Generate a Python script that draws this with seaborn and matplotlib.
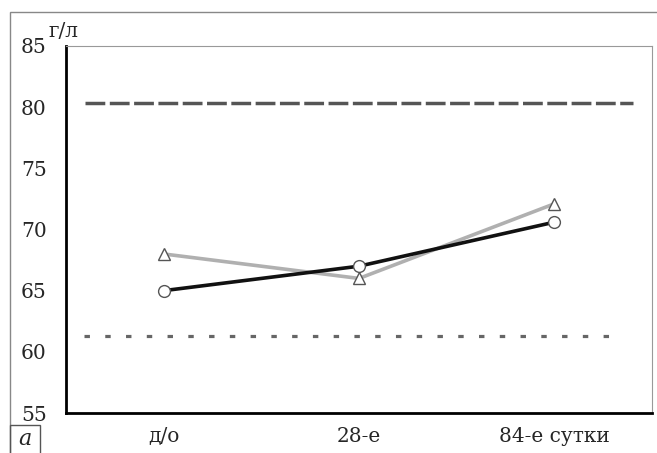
import numpy as np
import pandas as pd
import matplotlib
matplotlib.use('Agg')
import matplotlib.pyplot as plt
import seaborn as sns
from matplotlib import patches as mpatches

#DATA
stages = ['д/о', '28-е', '84-е сутки']
series_circle = [65.0, 67.0, 70.6]   #black line, open circles
series_triangle = [68.0, 66.0, 72.1] #gray line, open triangles
norm_upper = 80.35
norm_lower = 61.3
yticks = [55, 60, 65, 70, 75, 80, 85]

sns.set_style('white')
plt.rcParams['font.family'] = ['DejaVu Serif']
fs = 14.5

df = pd.DataFrame({'pos': np.arange(len(stages)),
                   'circle': series_circle,
                   'triangle': series_triangle})

fig = plt.figure(figsize=(6.57, 4.53), dpi=100)
ax = fig.add_axes([0.1005, 0.0883, 0.8919, 0.8102])

#Reference lines
ax.axhline(norm_upper, xmin=0.032, xmax=0.967, color='#555555', lw=2.5, dashes=(5.7, 1.3), zorder=1)
ax.axhline(norm_lower, xmin=0.03, xmax=0.945, color='#666666', lw=2.3, dashes=(1.7, 4.8), zorder=1)

#Series
sns.lineplot(data=df, x='pos', y='circle', ax=ax, color='#111111', lw=2.6,
             marker='o', markersize=8.5, markerfacecolor='white', markeredgecolor='#555555',
             markeredgewidth=1.0, zorder=3)
sns.lineplot(data=df, x='pos', y='triangle', ax=ax, color='#b0b0b0', lw=2.6,
             marker='^', markersize=8.5, markerfacecolor='white', markeredgecolor='#555555',
             markeredgewidth=1.0, zorder=2)

ax.set_xlim(-0.5, len(stages) - 0.5)
ax.set_ylim(55, 85)
ax.set_yticks(yticks)
ax.set_yticklabels([str(v) for v in yticks], fontsize=fs)
ax.set_xticks(np.arange(len(stages) + 1) - 0.5)
ax.set_xticklabels([])
ax.set_xticks(np.arange(len(stages)), minor=True)
ax.set_xticklabels(stages, minor=True, fontsize=fs)
ax.tick_params(axis='x', which='minor', length=0, pad=10)
ax.tick_params(axis='x', which='major', direction='out', length=6, width=1.5, color='black')
ax.tick_params(axis='y', direction='out', length=6, width=1.5, color='black', pad=8)
ax.set_xlabel('')
ax.set_ylabel('')

for s in ['left', 'bottom']:
    ax.spines[s].set_color('black')
    ax.spines[s].set_linewidth(2)
for s in ['top', 'right']:
    ax.spines[s].set_color('#999999')
    ax.spines[s].set_linewidth(0.8)

#Unit label and panel letter
fig.text(0.097, 0.93, 'г/л', fontsize=fs, ha='center', va='center')
fig.patches.append(mpatches.Rectangle((0.015, -0.01), 1.0, 0.984, transform=fig.transFigure,
                                      fill=False, edgecolor='#888888', lw=1))
fig.patches.append(mpatches.Rectangle((0.015, -0.01), 0.046, 0.072, transform=fig.transFigure,
                                      fill=False, edgecolor='#555555', lw=1))
fig.text(0.038, 0.03, 'а', fontsize=16, style='italic', ha='center', va='center')

plt.savefig('out.png', dpi=100)
